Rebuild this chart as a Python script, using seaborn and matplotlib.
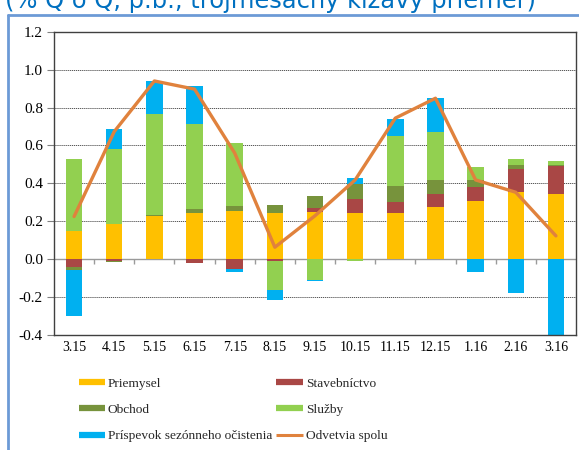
import numpy as np
import matplotlib
matplotlib.use("Agg")
import matplotlib.pyplot as plt
import seaborn as sns
from matplotlib.lines import Line2D
from matplotlib.ticker import FuncFormatter

# ---------------- data ----------------
cats = ["3.15", "4.15", "5.15", "6.15", "7.15", "8.15", "9.15",
        "10.15", "11.15", "12.15", "1.16", "2.16", "3.16"]
priemysel = [0.146, 0.188, 0.230, 0.243, 0.255, 0.243, 0.251, 0.246, 0.246, 0.273, 0.308, 0.357, 0.346]
stavebnictvo = [-0.042, -0.007, 0.000, -0.018, -0.053, -0.012, 0.021, 0.069, 0.053, 0.070, 0.074, 0.120, 0.144]
obchod = [-0.014, -0.010, 0.005, 0.023, 0.026, 0.042, 0.062, 0.081, 0.086, 0.076, 0.037, 0.019, 0.005]
sluzby = [0.381, 0.392, 0.531, 0.445, 0.332, -0.150, -0.109, -0.011, 0.265, 0.253, 0.069, 0.033, 0.023]
prispevok = [-0.243, 0.106, 0.174, 0.204, -0.016, -0.056, -0.005, 0.033, 0.090, 0.176, -0.069, -0.179, -0.400]
spolu = [0.225, 0.673, 0.940, 0.897, 0.560, 0.063, 0.229, 0.418, 0.744, 0.849, 0.418, 0.353, 0.123]

series_names = ["Priemysel", "Stavebníctvo", "Obchod", "Služby", "Príspevok sezónneho očistenia"]
line_name = "Odvetvia spolu"
title_text = "(% Q o Q, p.b., trojmesačný kĺzavý priemer)"

# ---------------- style ----------------
colors = ["#FFC000", "#A94745", "#77933C", "#92D050", "#00B0F0"]
line_color = "#E0823D"

sns.set_theme(style="white")
plt.rcParams['font.family'] = ['Liberation Serif', 'DejaVu Serif']

fig = plt.figure(figsize=(5.79, 4.5), dpi=100)
W, H = 579, 450
ax = fig.add_axes([54 / W, 1 - 335 / H, 522 / W, (335 - 31.7) / H])

n = len(cats)
pos_base = np.zeros(n)
neg_base = np.zeros(n)
for vals, col in zip([priemysel, stavebnictvo, obchod, sluzby, prispevok], colors):
    v = np.array(vals, dtype=float)
    bottom = np.where(v >= 0, pos_base, neg_base)
    sns.barplot(x=cats, y=v, order=cats, bottom=bottom, color=col, saturation=1,
                width=0.41, ax=ax, zorder=2, linewidth=0)
    pos_base += np.where(v >= 0, v, 0)
    neg_base += np.where(v < 0, v, 0)

sns.lineplot(x=np.arange(n), y=spolu, color=line_color, linewidth=2.4, ax=ax, zorder=4)

ax.set_xlim(-0.5, n - 0.5)
ax.set_ylim(-0.4, 1.2)
yt = np.round(np.arange(-0.4, 1.21, 0.2), 1)
ax.set_yticks(yt)
ax.yaxis.set_major_formatter(FuncFormatter(lambda v, p: f"{v:.1f}"))
ax.set_xlabel("")
ax.set_ylabel("")

# grid lines
for v in yt:
    if v not in (0.0, -0.4, 1.2):
        ax.axhline(v, color="#555555", lw=0.7, ls=(0, (1.2, 0.8)), zorder=0)
ax.axhline(0, color="#9A9A9A", lw=1.0, zorder=1)
ax.vlines(np.arange(0.5, n - 0.5, 1), 0, -0.027, color="#9A9A9A", lw=1.0, zorder=1)

for s in ax.spines.values():
    s.set_visible(True)
    s.set_color("#404040")
    s.set_linewidth(1.0)

ax.tick_params(axis="y", left=True, length=5, width=0.8, color="#808080",
               labelsize=11, pad=3, labelcolor="black")
ax.tick_params(axis="x", bottom=False, length=0, labelsize=10, pad=4, labelcolor="black")

# legend
handles = [Line2D([], [], color=c, lw=4.5, solid_capstyle="butt") for c in colors]
handles.append(Line2D([], [], color=line_color, lw=2.2, solid_capstyle="butt"))
labels = series_names + [line_name]
order = [0, 2, 4, 1, 3, 5]
fig.legend([handles[i] for i in order], [labels[i] for i in order], ncol=2,
           loc="center", bbox_to_anchor=(233 / W, 1 - 410 / H), frameon=False,
           fontsize=9.6, handlelength=2.0, handletextpad=0.2, columnspacing=0.3,
           labelspacing=1.05)

# outer blue frame and cut-off title
fig.add_artist(Line2D([8 / W, 8 / W], [0, 1 - 15 / H], transform=fig.transFigure,
                      color="#6C9AD6", lw=2))
fig.add_artist(Line2D([8 / W, 1], [1 - 15 / H, 1 - 15 / H], transform=fig.transFigure,
                      color="#6C9AD6", lw=2))
fig.text(5 / W, 1 - 8 / H, title_text, color="#0070C0", fontsize=17.4,
         family=["DejaVu Sans"], ha="left", va="baseline")

fig.savefig("out.png", dpi=100)
